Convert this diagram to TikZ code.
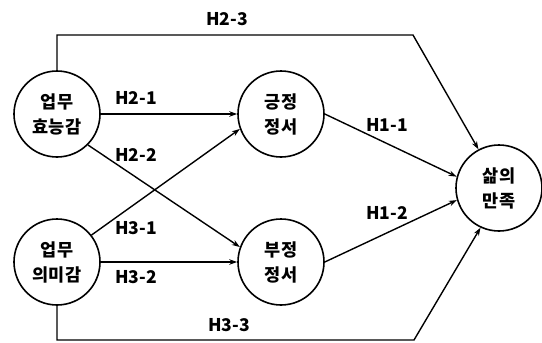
\documentclass[tikz,border=0pt]{standalone}
\usepackage{fontspec}
\setmainfont{Noto Sans CJK KR}
\usetikzlibrary{shapes}
\usetikzlibrary{positioning}
\usetikzlibrary{arrows.meta}

\begin{document}
\begin{tikzpicture}[x=1pt,y=-1pt]
		\tikzstyle{every node}+=[inner sep=0pt]
		\tikzstyle{var}=[draw, circle, minimum size=86pt, line width=1.6pt, align=center, font=\fontsize{17.5}{25}\selectfont\bfseries]
		\tikzstyle{hyp}=[font=\fontsize{17.5}{20}\selectfont\bfseries]
		\tikzstyle{link}=[line width=1.4pt, -{Stealth[length=8pt,width=5.5pt]}]
		\useasboundingbox (0,0) rectangle (542,343);
		\node [var] (eff) at (57,114) {업무\\효능감};
		\node [var] (mean) at (57,262) {업무\\의미감};
		\node [var] (pos) at (281,114) {긍정\\정서};
		\node [var] (neg) at (281,262) {부정\\정서};
		\node [var] (sat) at (499,188) {삶의\\만족};
		\coordinate (top) at (413,35);
		\coordinate (bot) at (414,340);
		\draw [link] (eff) -- (pos);
		\draw [link] (eff.-45) -- (neg.160);
		\draw [link] (mean.38) -- (pos.200);
		\draw [link] (mean) -- (neg);
		\draw [link] (pos.east) -- (sat.165);
		\draw [link] (neg.east) -- (sat.196);
		\draw [link] (eff.north) |- (top) -- (sat.118);
		\draw [link] (mean.south) |- (bot) -- (sat.245);
		\node [hyp] (h23) at (227,19.5) {H2-3};
		\node [hyp] (h21) at (136,98) {H2-1};
		\node [hyp] (h22) at (136,155) {H2-2};
		\node [hyp] (h31) at (136,228) {H3-1};
		\node [hyp] (h32) at (136,277) {H3-2};
		\node [hyp] (h33) at (229,325) {H3-3};
		\node [hyp] (h11) at (387,125) {H1-1};
		\node [hyp] (h12) at (387,213) {H1-2};
\end{tikzpicture}
\end{document}
